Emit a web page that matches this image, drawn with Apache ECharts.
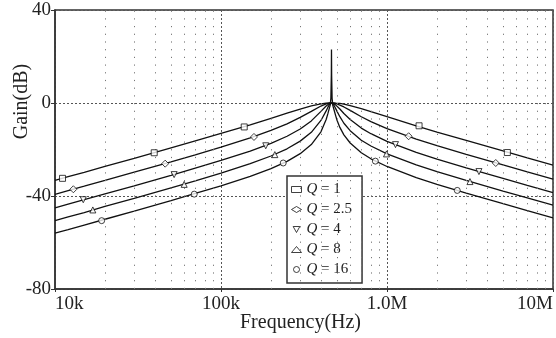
<!DOCTYPE html>
<html><head><meta charset="utf-8">
<script src="https://cdn.jsdelivr.net/npm/echarts@6/dist/echarts.min.js"></script>
<style>html,body{margin:0;padding:0;background:#fff}#c{width:556px;height:338px}</style>
</head><body><div id="c"></div>
<script>
// Frequency grid (Hz)
const freqHz = [1e4,1.2e4,1.5e4,2e4,3e4,5e4,7e4,1e5,1.5e5,2e5,2.5e5,3e5,3.5e5,4e5,4.3e5,4.4e5,4.5e5,4.55e5,4.59e5,4.62e5,4.63e5,4.64e5,4.67e5,4.71e5,4.8e5,4.9e5,5e5,5.2e5,5.5e5,6e5,7e5,8e5,1e6,1.5e6,2e6,3e6,5e6,7e6,1e7];
// Gain (dB) per curve
const gainQ1  = [-33.3,-31.7,-29.8,-27.3,-23.8,-19.3,-16.3,-13.1,-9.4,-6.6,-4.4,-2.6,-1.2,-0.4,-0.1,0,0,0,0,0,0,0,0,0,0,-0.1,-0.1,-0.2,-0.5,-1.1,-2.4,-3.7,-5.9,-9.8,-12.5,-16.1,-20.6,-23.6,-26.7];
const gainQ25 = [-39.3,-37.7,-35.8,-33.3,-29.7,-25.3,-22.3,-19.0,-15.0,-11.8,-9.0,-6.2,-3.6,-1.3,-0.4,-0.2,-0.1,0,0,0,0,0,0,0,-0.1,-0.2,-0.4,-0.9,-1.7,-3.2,-5.9,-8.0,-11.0,-15.5,-18.3,-22.1,-26.6,-29.6,-32.7];
const gainQ4  = [-45.1,-43.5,-41.6,-39.1,-35.6,-31.1,-28.0,-24.7,-20.7,-17.4,-14.3,-11.2,-7.7,-3.6,-1.3,-0.6,-0.2,-0.1,0,0,0,0,0,-0.1,-0.3,-0.8,-1.3,-2.6,-4.5,-7.1,-10.8,-13.2,-16.5,-21.2,-24.1,-27.9,-32.4,-35.4,-38.5];
const gainQ8  = [-50.6,-49.0,-47.1,-44.5,-41.0,-36.5,-33.5,-30.2,-26.1,-22.8,-19.7,-16.4,-12.6,-7.5,-3.4,-1.9,-0.7,-0.3,-0.1,0,0,0,-0.1,-0.3,-1.1,-2.3,-3.6,-5.9,-8.7,-11.9,-16.0,-18.5,-21.9,-26.6,-29.5,-33.3,-37.9,-40.8,-43.9];
const gainQ16 = [-56.0,-54.5,-52.5,-50.0,-46.5,-42.0,-38.9,-35.6,-31.6,-28.2,-25.1,-21.8,-17.9,-12.4,-7.1,-4.7,-2.1,-0.9,2,12,23,12,2,-0.9,-3.0,-5.3,-7.4,-10.5,-13.7,-17.2,-21.4,-24.0,-27.3,-32.1,-35.0,-38.8,-43.3,-46.3,-49.4];
// Marker points [Hz, dB]
const markQ1  = [[1.11e4,-32.4],[3.96e4,-21.4],[1.38e5,-10.3],[1.56e6,-9.8],[5.31e6,-21.3]];
const markQ25 = [[1.29e4,-37.1],[4.61e4,-26.1],[1.58e5,-14.6],[1.35e6,-14.3],[4.52e6,-25.8]];
const markQ4  = [[1.48e4,-41.6],[5.22e4,-30.8],[1.86e5,-18.4],[1.125e6,-17.9],[3.58e6,-29.5]];
const markQ8  = [[1.69e4,-46.0],[6.0e4,-35.0],[2.11e5,-22.2],[9.93e5,-21.9],[3.16e6,-33.8]];
const markQ16 = [[1.91e4,-50.6],[6.9e4,-39.2],[2.37e5,-25.8],[8.51e5,-25.0],[2.65e6,-37.6]];
const seriesNames = ['Q = 1','Q = 2.5','Q = 4','Q = 8','Q = 16'];
const xTickValues = [1e4,1e5,1e6,1e7];
const xTickLabels = ['10k','100k','1.0M','10M'];
const minorGridHz = [2e4,3e4,4e4,5e4,6e4,7e4,8e4,9e4,2e5,3e5,4e5,5e5,6e5,7e5,8e5,9e5,2e6,3e6,4e6,5e6,6e6,7e6,8e6,9e6];

const curves = [gainQ1,gainQ25,gainQ4,gainQ8,gainQ16];
const marks = [markQ1,markQ25,markQ4,markQ8,markQ16];
const symbols = ['rect','diamond','triangle','triangle','circle'];
const rotations = [0,0,180,0,0];
const legendIcons = ['rect','diamond','path://M0,0 L10,0 L5,9 Z','triangle','circle'];
const FONT = 'Liberation Serif';

const series = [];
curves.forEach((g,i)=>{
  const s = {
    type:'line', name:'curve'+i, data: freqHz.map((f,k)=>[f,g[k]]),
    showSymbol:false, symbol:'none', silent:true, animation:false,
    lineStyle:{color:'#111', width:1.3}, z:3
  };
  if(i===0){
    s.markLine = {
      silent:true, symbol:['none','none'], animation:false,
      label:{show:false},
      lineStyle:{color:'#777', type:[1.2,6.5], width:1},
      data: minorGridHz.map(v=>({xAxis:v}))
    };
  }
  series.push(s);
});
marks.forEach((m,i)=>{
  series.push({
    type:'scatter', name:seriesNames[i], data:m, symbol:symbols[i], symbolRotate:rotations[i],
    symbolSize: symbols[i]==='diamond'?7:6, animation:false, z:5,
    itemStyle:{color:'#fff', borderColor:'#111', borderWidth:1}
  });
});

const chart = echarts.init(document.getElementById('c'), null, {renderer:'canvas'});
chart.setOption({
  animation:false,
  backgroundColor:'#fff',
  grid:{left:55, right:3, top:10, bottom:49, containLabel:false, outerBoundsMode:'none',
    show:true, borderColor:'#333', borderWidth:1.5, backgroundColor:'transparent'},
  xAxis:{
    type:'log', logBase:10, min:1e4, max:1e7,
    name:'Frequency(Hz)', nameLocation:'middle', nameGap:24, nameMoveOverlap:false,
    nameTextStyle:{fontFamily:FONT, fontSize:20, color:'#222', padding:[0,7,0,0]},
    axisLine:{onZero:false, lineStyle:{color:'#333', width:1.5}},
    axisTick:{show:true, inside:false, length:3, lineStyle:{color:'#333'}},
    axisLabel:{fontFamily:FONT, fontSize:19, color:'#222', margin:6, alignMinLabel:'left', alignMaxLabel:'right',
      formatter:(v)=>{const i=xTickValues.findIndex(t=>Math.abs(Math.log10(t)-Math.log10(v))<1e-6);return i>=0?xTickLabels[i]:'';}},
    splitLine:{show:true, lineStyle:{color:'#555', type:[2,2], width:1}}
  },
  yAxis:{
    type:'value', min:-80, max:40, interval:40,
    name:'Gain(dB)', nameLocation:'middle', nameGap:23, nameMoveOverlap:false,
    nameTextStyle:{fontFamily:FONT, fontSize:20, color:'#222', padding:[0,0,0,96]},
    axisLine:{show:true, onZero:false, lineStyle:{color:'#333', width:1.5}},
    axisTick:{show:true, inside:false, length:4, lineStyle:{color:'#333'}},
    axisLabel:{fontFamily:FONT, fontSize:19, color:'#222', margin:4},
    splitLine:{show:true, lineStyle:{color:'#555', type:[2,2], width:1}}
  },
  legend:{
    data:seriesNames.map((n,i)=>({name:n, icon:legendIcons[i]})), orient:'vertical', left:287, top:176,
    backgroundColor:'#fff', borderColor:'#333', borderWidth:1.5,
    padding:[6,10,6,4], itemGap:5, itemWidth:10, itemHeight:6,
    itemStyle:{color:'#fff', borderColor:'#111', borderWidth:1},
    textStyle:{fontFamily:FONT, fontSize:15, color:'#222', rich:{q:{fontFamily:FONT, fontSize:15, fontStyle:'italic', color:'#222'}}},
    formatter:(n)=>'{q|Q} '+n.slice(2)
  },
  series
});
</script></body></html>
